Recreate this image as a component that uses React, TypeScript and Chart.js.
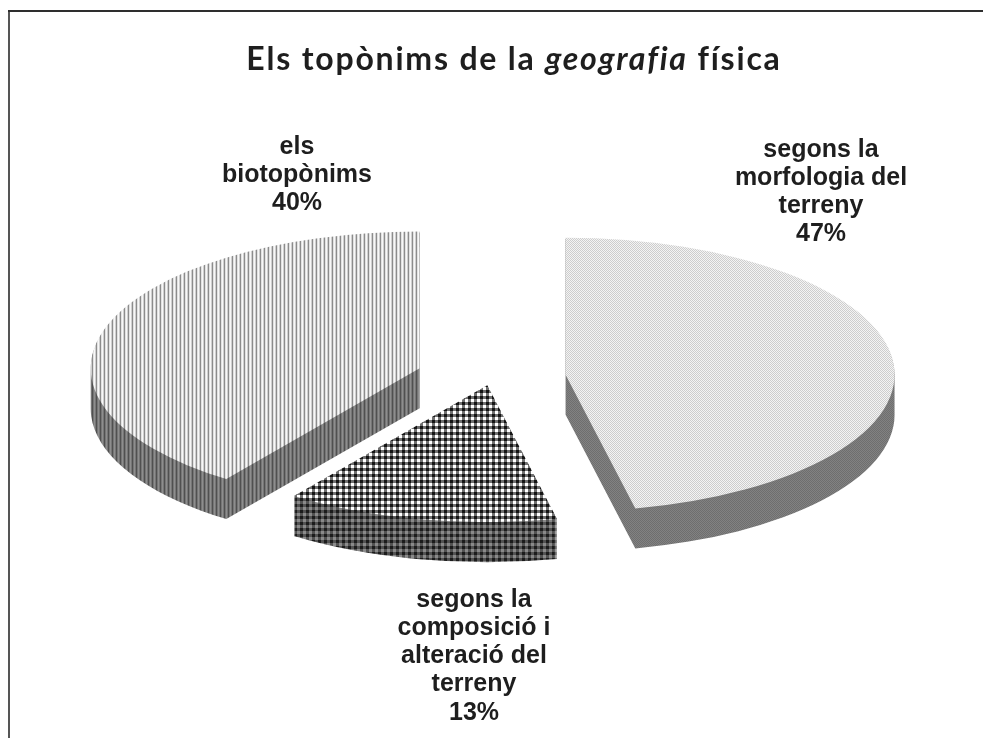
import React, { useEffect, useRef } from "react";
import { Chart, registerables } from "chart.js";

Chart.register(...registerables);

const categories: string[][] = [
  ["segons la", "morfologia del", "terreny"],
  ["segons la", "composició i", "alteració del", "terreny"],
  ["els", "biotopònims"],
];
const values = [46.6, 13.4, 40];
const explode = [75, 18, 75];
const titleParts = [
  { text: "Els topònims de la ", italic: false },
  { text: "geografia", italic: true },
  { text: " física", italic: false },
];

const WIDTH = 983;
const HEIGHT = 738;
const CENTER_X = 491;
const CENTER_Y = 378;
const RADIUS = 329;
const FLATTEN = 0.416;
const DEPTH = 40;
const LABEL_POS = [
  { x: 821, y: 150 },
  { x: 474, y: 600 },
  { x: 297, y: 147 },
];
const LINE_H = 28.2;

type TileFn = (x: number, y: number) => string;

function makePattern(size: number, fn: TileFn): CanvasPattern {
  const c = document.createElement("canvas");
  c.width = size;
  c.height = size;
  const g = c.getContext("2d")!;
  for (let y = 0; y < size; y++) {
    for (let x = 0; x < size; x++) {
      g.fillStyle = fn(x, y);
      g.fillRect(x, y, 1, 1);
    }
  }
  return g.createPattern(c, "repeat")!;
}

const stripes = (cols: string[]): TileFn => (x) => cols[x % cols.length];
const checker = (a: string, b: string): TileFn => (x, y) => ((x + y) % 2 === 0 ? a : b);
const gingham = (both: string, one: string, none: string): TileFn => (x, y) => {
  const n = (x % 6 < 3 ? 1 : 0) + (y % 6 < 3 ? 1 : 0);
  return n === 2 ? both : n === 1 ? one : none;
};

export default function App() {
  const ref = useRef<HTMLCanvasElement>(null);

  useEffect(() => {
    const tops = [
      makePattern(4, checker("#cdcdcd", "#f4f4f4")),
      makePattern(6, gingham("#141414", "#707070", "#ffffff")),
      makePattern(4, stripes(["#8c8c8c", "#e2e2e2", "#f8f8f8", "#d0d0d0"])),
    ];
    const sides = [
      makePattern(4, checker("#6e6e6e", "#828282")),
      makePattern(6, gingham("#1c1c1c", "#525252", "#8a8a8a")),
      makePattern(4, stripes(["#505050", "#767676", "#8e8e8e", "#767676"])),
    ];

    const pie3d = {
      id: "pie3d",
      beforeDraw(chart: any) {
        const ctx = chart.ctx as CanvasRenderingContext2D;
        ctx.save();
        ctx.fillStyle = "#ffffff";
        ctx.fillRect(0, 0, WIDTH, HEIGHT);
        ctx.fillStyle = "#555555";
        ctx.fillRect(8, 10, 2, HEIGHT - 10);
        ctx.fillStyle = "#2e2e2e";
        ctx.fillRect(8, 10, WIDTH - 8, 2);
        ctx.restore();
      },
      beforeDatasetsDraw(chart: any) {
        const ctx = chart.ctx as CanvasRenderingContext2D;
        const arcs = chart.getDatasetMeta(0).data;
        arcs.forEach((arc: any, i: number) => {
          const { startAngle, endAngle, outerRadius } = arc;
          const mid = (startAngle + endAngle) / 2;
          const ax = CENTER_X + Math.cos(mid) * explode[i];
          const ay = CENTER_Y + Math.sin(mid) * explode[i] * FLATTEN;
          // extruded side, in page space
          ctx.beginPath();
          for (let d = 1; d <= DEPTH; d++) {
            ctx.moveTo(ax, ay + d);
            ctx.ellipse(ax, ay + d, outerRadius, outerRadius * FLATTEN, 0, startAngle, endAngle);
            ctx.closePath();
          }
          ctx.fillStyle = sides[i];
          ctx.fill();
          // flattened, pulled-out top, drawn by the library's own arc element
          ctx.save();
          ctx.translate(ax, ay);
          ctx.scale(1, FLATTEN);
          ctx.translate(-arc.x, -arc.y);
          tops[i].setTransform(ctx.getTransform().inverse());
          arc.draw(ctx);
          ctx.restore();
        });
        return false;
      },
      afterDraw(chart: any) {
        const ctx = chart.ctx as CanvasRenderingContext2D;
        ctx.save();
        ctx.fillStyle = "#1e1e1e";
        // title
        ctx.textAlign = "left";
        ctx.textBaseline = "alphabetic";
        (ctx as any).letterSpacing = "1.8px";
        const fontOf = (it: boolean) => `${it ? "italic " : ""}bold 32px Lato`;
        let total = 0;
        titleParts.forEach((p) => {
          ctx.font = fontOf(p.italic);
          total += ctx.measureText(p.text).width;
        });
        let tx = 514 - total / 2;
        titleParts.forEach((p) => {
          ctx.font = fontOf(p.italic);
          ctx.fillText(p.text, tx, 70);
          tx += ctx.measureText(p.text).width;
        });
        (ctx as any).letterSpacing = "0px";
        // slice labels
        ctx.font = 'bold 25px "Liberation Sans"';
        ctx.textAlign = "center";
        ctx.textBaseline = "middle";
        categories.forEach((lines, i) => {
          const all = [...lines, `${Math.round(values[i])}%`];
          all.forEach((line, j) => {
            ctx.fillText(line, LABEL_POS[i].x, LABEL_POS[i].y + j * LINE_H);
          });
        });
        ctx.restore();
      },
    };

    const chart = new Chart(ref.current!, {
      type: "pie",
      data: {
        labels: categories.map((c) => c.join(" ")),
        datasets: [
          {
            data: values,
            backgroundColor: tops as any,
            borderWidth: 0,
          },
        ],
      },
      options: {
        responsive: false,
        animation: false,
        radius: RADIUS,
        layout: { padding: 0 },
        events: [],
        plugins: { legend: { display: false }, tooltip: { enabled: false }, title: { display: false } },
      } as any,
      plugins: [pie3d as any],
    });
    return () => chart.destroy();
  }, []);

  return (
    <div style={{ position: "absolute", left: 0, top: 0, width: WIDTH, height: HEIGHT }}>
      <canvas ref={ref} width={WIDTH} height={HEIGHT} style={{ display: "block" }} />
    </div>
  );
}
